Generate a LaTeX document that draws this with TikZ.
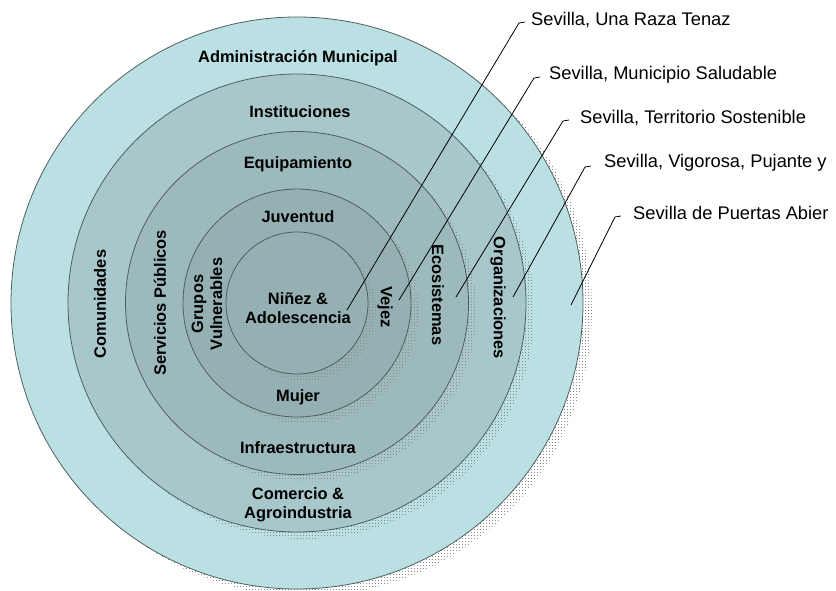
\documentclass[tikz,border=0pt]{standalone}
\usepackage{fontspec}
\setmainfont{Liberation Sans}
\usetikzlibrary{patterns.meta}
\definecolor{ringA}{HTML}{BBE0E3}
\definecolor{ringB}{HTML}{A8C7CB}
\definecolor{ringC}{HTML}{9CB9BC}
\definecolor{ringD}{HTML}{94B0B2}
\definecolor{ringE}{HTML}{94B0B2}
\definecolor{edgecol}{HTML}{4F5F60}
\definecolor{dotcol}{HTML}{8A8A8A}
\tikzdeclarepattern{
  name=sqdots,
  type=uncolored,
  bottom left={(-0.1pt,-0.1pt)},
  top right={(3.1pt,3.1pt)},
  tile size={(3pt,3pt)},
  code={\fill (0pt,0pt) rectangle (1.3pt,1.3pt);}
}
\begin{document}
\begin{tikzpicture}[x=1pt,y=-1pt,
  shadowfill/.style={pattern=sqdots, pattern color=dotcol},
  ringbox/.style={draw=edgecol, line width=0.8pt},
  inlabel/.style={font=\bfseries\fontsize{16.4}{19}\selectfont, align=center, inner sep=0pt},
  outlabel/.style={font=\fontsize{18.3}{21}\selectfont, anchor=west, inner sep=0pt},
  leader/.style={draw=black, line width=0.8pt}]
\useasboundingbox (0,0) rectangle (836,590);
% circles with shadows, outer to inner
\fill[shadowfill] (306,310) circle[radius=286pt];
\path[ringbox, fill=ringA] (297,303) circle[radius=286pt];
\fill[shadowfill] (305,310) circle[radius=229pt];
\path[ringbox, fill=ringB] (297,303) circle[radius=229pt];
\fill[shadowfill] (305,310) circle[radius=171.5pt];
\path[ringbox, fill=ringC] (297,303) circle[radius=171.5pt];
\fill[shadowfill] (305,310) circle[radius=114pt];
\path[ringbox, fill=ringD] (297,303) circle[radius=114pt];
\fill[shadowfill] (305,310) circle[radius=71pt];
\path[ringbox, fill=ringE] (297,303) circle[radius=71pt];
% ring labels
\node[inlabel] (adm) at (298,58) {Administración Municipal};
\node[inlabel] (ins) at (300,112) {Instituciones};
\node[inlabel] (equ) at (298,164) {Equipamiento};
\node[inlabel] (juv) at (298,217) {Juventud};
\node[inlabel] (nin) at (298,308) {Niñez \&\\Adolescencia};
\node[inlabel] (muj) at (298,397) {Mujer};
\node[inlabel] (inf) at (298,448) {Infraestructura};
\node[inlabel] (com) at (298,505) {Comercio \&\\Agroindustria};
\node[inlabel, rotate=90] (cmn) at (100,304) {Comunidades};
\node[inlabel, rotate=90] (ser) at (160,303) {Servicios Públicos};
\node[inlabel, rotate=90] (gru) at (207,304) {Grupos\\Vulnerables};
\node[inlabel, rotate=-90] (vej) at (385,307) {Vejez};
\node[inlabel, rotate=-90] (eco) at (438,295) {Ecosistemas};
\node[inlabel, rotate=-90] (org) at (498,298) {Organizaciones};
% outside labels
\node[outlabel] (t1) at (531,20) {Sevilla, Una Raza Tenaz};
\node[outlabel] (t2) at (549,75) {Sevilla, Municipio Saludable};
\node[outlabel] (t3) at (580,118) {Sevilla, Territorio Sostenible};
\node[outlabel] (t4) at (604,163) {Sevilla, Vigorosa, Pujante y};
\node[outlabel] (t5) at (633,213) {Sevilla de Puertas Abier};
% leader points
\coordinate (e1) at (347,310);
\coordinate (e2) at (399,300);
\coordinate (e3) at (456,297);
\coordinate (e4) at (513,297);
\coordinate (e5) at (571,305);
\coordinate (k1) at (519,23);
\coordinate (k2) at (534,78);
\coordinate (k3) at (563,121);
\coordinate (k4) at (585,167);
\coordinate (k5) at (615,217);
\coordinate (h1) at (525,22);
\coordinate (h2) at (540,77);
\coordinate (h3) at (569,120);
\coordinate (h4) at (591,166);
\coordinate (h5) at (621,216);
\draw[leader] (e1) -- (k1) -- (h1);
\draw[leader] (e2) -- (k2) -- (h2);
\draw[leader] (e3) -- (k3) -- (h3);
\draw[leader] (e4) -- (k4) -- (h4);
\draw[leader] (e5) -- (k5) -- (h5);
\end{tikzpicture}
\end{document}
